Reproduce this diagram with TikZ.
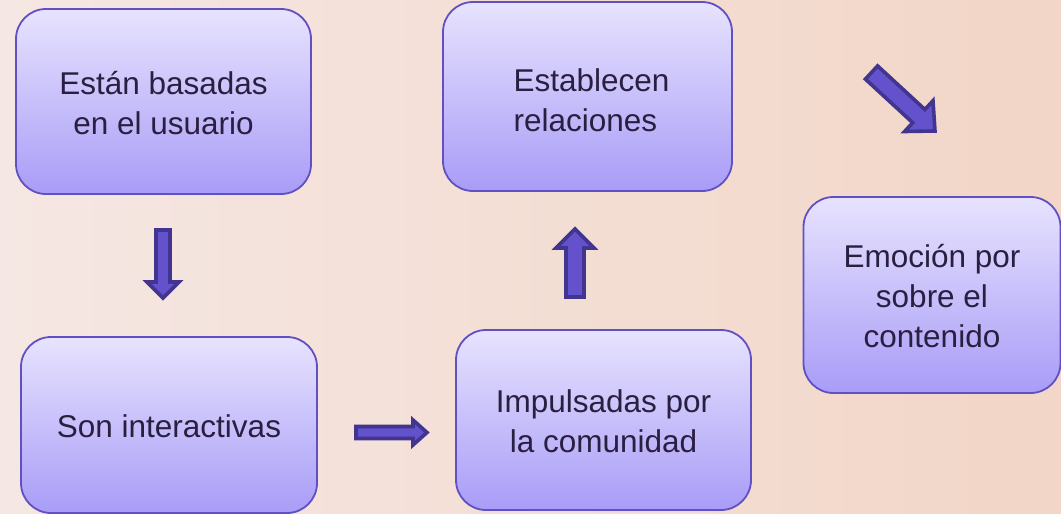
\documentclass[tikz,border=0pt]{standalone}
\usepackage{fontspec}
\setmainfont{Liberation Sans}
\definecolor{bgleft}{HTML}{F5E7E3}
\definecolor{bgright}{HTML}{F2D6C7}
\definecolor{boxtop}{HTML}{E7E3FE}
\definecolor{boxbot}{HTML}{A89CF7}
\definecolor{boxline}{HTML}{6150C4}
\definecolor{txt}{HTML}{2A1F40}
\definecolor{arrfill}{HTML}{6352CB}
\definecolor{arrline}{HTML}{41358F}
\newcommand{\pushdown}[1]{\rule{0pt}{#1}}
\tikzset{
  box/.style={draw=boxline, line width=1.8pt, rounded corners=30pt,
    top color=boxtop, bottom color=boxbot, text=txt, align=center,
    font=\fontsize{31.5}{40}\selectfont, inner sep=0pt},
  blockarrow/.style={fill=arrfill, draw=arrline, line width=3.6pt, line join=miter}
}
\begin{document}
\begin{tikzpicture}[x=1pt,y=-1pt]
\useasboundingbox (0,0) rectangle (1061,514);
\clip (0,0) rectangle (1061,514);
\shade[left color=bgleft, right color=bgright] (0,0) rectangle (1061,514);

\node[box, minimum width=295pt, minimum height=185pt] (b1) at (163.5,101.5) {\pushdown{26pt}Están basadas\\en el usuario};
\node[box, minimum width=296pt, minimum height=176pt] (b2) at (169,425) {\pushdown{26pt}Son interactivas};
\node[box, minimum width=295pt, minimum height=180pt] (b3) at (603.5,420) {\pushdown{26pt}Impulsadas por\\la comunidad};
\node[box, minimum width=289pt, minimum height=189pt, align=left] (b4) at (587.5,96.5) {\hspace*{8pt}\pushdown{30pt}Establecen\\\hspace*{8pt}relaciones};
\node[box, minimum width=257pt, minimum height=196pt] (b5) at (932,295) {\pushdown{26pt}Emoción por\\sobre el\\contenido};

% down arrow (b1 -> b2)
\draw[blockarrow] (156,230) -- (170,230) -- (170,282) -- (179,282) -- (163,298) -- (147,282) -- (156,282) -- cycle;
% right arrow (b2 -> b3)
\draw[blockarrow] (356,426.5) -- (413,426.5) -- (413,420) -- (427,432.5) -- (413,445) -- (413,438.5) -- (356,438.5) -- cycle;
% up arrow (b3 -> b4)
\draw[blockarrow] (566,297) -- (584,297) -- (584,248) -- (594,248) -- (575,229) -- (556,248) -- (566,248) -- cycle;
% diagonal arrow (b4 -> b5)
\draw[blockarrow] (865.4,79.1) -- (877.6,65.9) -- (924.9,109.5) -- (933.0,100.7) -- (935,131) -- (904.6,131.5) -- (912.7,122.7) -- cycle;
\end{tikzpicture}
\end{document}
